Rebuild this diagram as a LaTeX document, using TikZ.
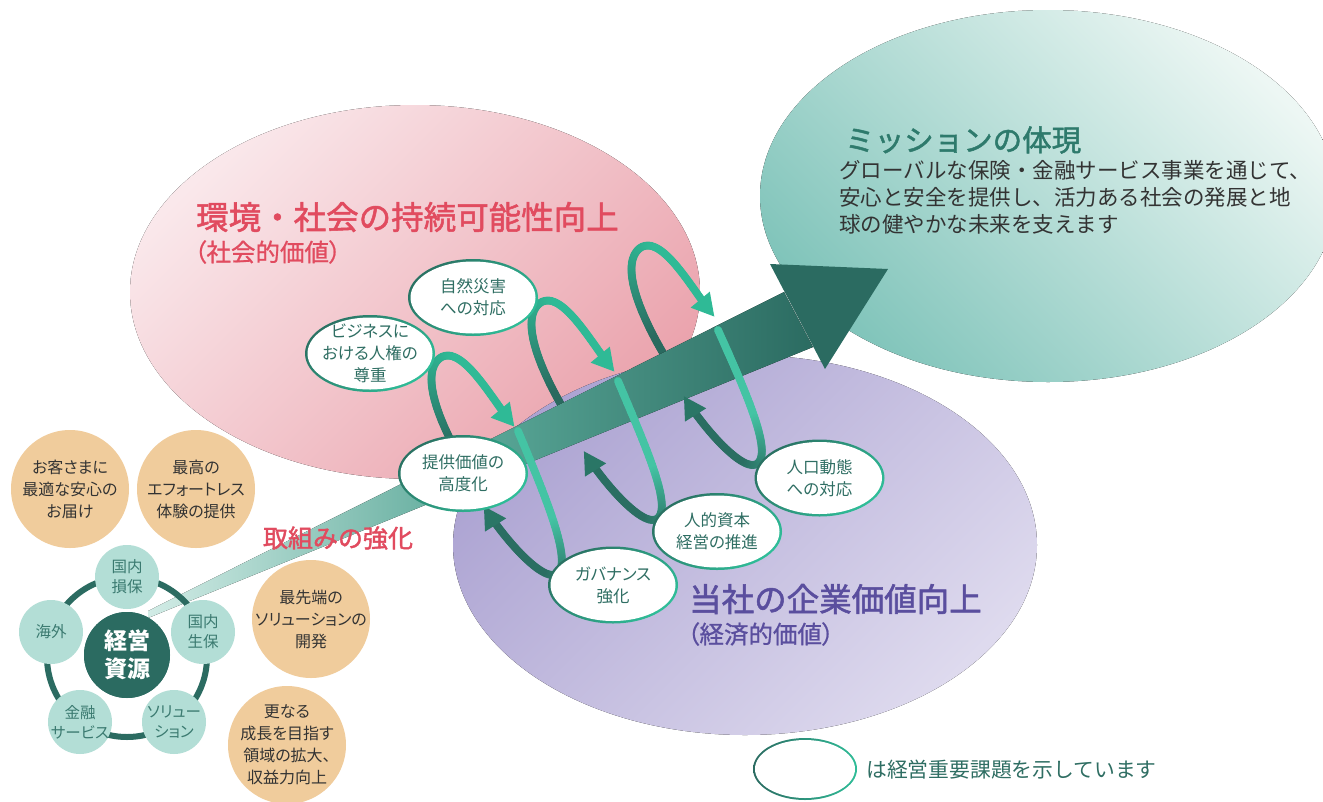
\documentclass[tikz,border=0pt]{standalone}
\usepackage{fontspec}
\setmainfont{Noto Sans CJK JP}
\newfontfamily\jpp{Noto Sans CJK JP}[RawFeature=+palt]
\newfontfamily\jpmed{Noto Sans CJK JP}[FakeBold=1.6]
\newfontfamily\jpmedp{Noto Sans CJK JP}[FakeBold=0.8,RawFeature=+palt]
\usetikzlibrary{shapes.geometric,decorations.markings}
\definecolor{tealD}{HTML}{2B6B61}
\definecolor{upD}{HTML}{2A6A5F}
\definecolor{upB}{HTML}{2FBA96}
\definecolor{lowS}{HTML}{44C4A4}
\definecolor{lowE}{HTML}{2A6E62}
\definecolor{lowA}{HTML}{2A7666}
\definecolor{pinkL}{HTML}{FAE8EB}
\definecolor{pinkD}{HTML}{EAA2AC}
\definecolor{purpD}{HTML}{ACA3D2}
\definecolor{purpL}{HTML}{DEDAEE}
\definecolor{missL}{HTML}{EDF7F4}
\definecolor{missD}{HTML}{80C4BA}
\definecolor{orng}{HTML}{F0CC9C}
\definecolor{ltteal}{HTML}{B3DED6}
\definecolor{redT}{HTML}{E14B5F}
\definecolor{purT}{HTML}{5A4E9E}
\definecolor{misT}{HTML}{2E7A6C}
\definecolor{txtD}{HTML}{333333}
\definecolor{issT}{HTML}{2F6E63}
\definecolor{issD}{HTML}{2A7263}
\definecolor{issB}{HTML}{2FBD98}
\definecolor{beamL}{HTML}{D2ECE6}
\definecolor{beamM}{HTML}{59A797}
\definecolor{sTxt}{HTML}{3B7A70}
\tikzset{
  gradstroke/.style n args={4}{postaction={decorate,decoration={markings,
      mark=between positions 0 and -12pt step 1.2pt with {%
        \pgfmathsetmacro\gS{(\pgfkeysvalueof{/pgf/decoration/mark info/distance from start})/(\pgfdecoratedpathlength)}%
        \pgfmathsetmacro\gP{100*min(1,max(0,(\gS-#3)/(#4-#3)))}%
        \fill[#2!\gP!#1] (0pt,0pt) circle[radius=4pt];}}}},
  tipfill/.style={postaction={decorate,decoration={markings,
      mark=at position 1 with {\fill[#1] (2pt,0pt) -- (-20pt,12.5pt) -- (-20pt,-12.5pt) -- cycle;}}}},
  issue/.style={ellipse, minimum width=130pt, minimum height=77pt, inner sep=0pt,
     top color=issD, bottom color=issB, shading angle=45,
     path picture={\fill[white] (path picture bounding box.center) ellipse[x radius=62.5pt,y radius=36pt];}},
  isstext/.style={align=center, text=issT, font=\jpp\fontsize{16.5}{22}\selectfont, inner sep=0pt},
  goal/.style={circle, fill=orng, minimum size=118pt, inner sep=0pt},
  goaltext/.style={align=center, text=txtD, font=\jpp\fontsize{16}{22}\selectfont, inner sep=0pt},
  biz/.style={circle, fill=ltteal, minimum size=64pt, inner sep=0pt},
  biztext/.style={align=center, text=sTxt, font=\jpp\fontsize{15.5}{20}\selectfont, inner sep=0pt},
  ttl/.style={anchor=west, inner sep=0pt, font=\jpmed\fontsize{32.5}{33}\selectfont},
  subttl/.style={anchor=west, inner sep=0pt, font=\jpmedp\fontsize{24.5}{25}\selectfont}
}
\begin{document}
\begin{tikzpicture}[x=1pt,y=-1pt]
\path[use as bounding box, fill=white] (0,0) rectangle (1323,801);
% background ellipses
\fill[top color=missL, bottom color=missD, shading angle=-45] (1048,196) ellipse[x radius=288pt, y radius=186pt];
\fill[top color=pinkL, bottom color=pinkD, shading angle=45] (415,292) ellipse[x radius=285pt, y radius=187pt];
\fill[top color=purpD, bottom color=purpL, shading angle=45] (745,545) ellipse[x radius=292pt, y radius=190pt];
% upper arcs of the spiral (behind the beam)
\foreach \k in {0,1,2}{
  \begin{scope}[shift={(100*\k,-55*\k)}]
    \path[gradstroke={upD}{upB}{0.12}{0.6}, tipfill=upB]
      (466,468) .. controls (443,430) and (418,375) .. (440,358)
      .. controls (462,343) and (493,401) .. (513,425);
  \end{scope}
}
% beam
\fill[left color=beamL, right color=tealD, middle color=beamM]
  (148,611) -- (784,292) -- (813,347) -- (148,618) -- cycle;
\fill[tealD] (770,264) -- (888,269) -- (825,369) -- cycle;
% lower parts of the spiral (in front)
\path[gradstroke={lowS}{lowE}{0.38}{0.66}, tipfill=lowA]
  (518,431) .. controls (545,495) and (572,560) .. (558,573)
  .. controls (545,585) and (505,540) .. (485,508);
\path[gradstroke={lowS}{lowE}{0.38}{0.66}, tipfill=lowA]
  (618,381) .. controls (645,445) and (672,505) .. (658,518)
  .. controls (645,530) and (605,485) .. (585,453);
\path[gradstroke={lowS}{lowE}{0.38}{0.66}, tipfill=lowA]
  (718,330) .. controls (745,390) and (772,450) .. (758,463)
  .. controls (745,475) and (705,430) .. (685,398);
% material issues
\node[issue] (n1) at (370,353.5) {};
\node[isstext] (n1t) at (n1.center) {ビジネスに\\おける人権の\\尊重};
\node[issue] (n2) at (473,297.5) {};
\node[isstext] (n2t) at (n2.center) {自然災害\\への対応};
\node[issue] (n3) at (463,473.5) {};
\node[isstext] (n3t) at (n3.center) {提供価値の\\高度化};
\node[issue] (n4) at (613,585) {};
\node[isstext] (n4t) at (n4.center) {ガバナンス\\強化};
\node[issue] (n5) at (717,531.5) {};
\node[isstext] (n5t) at (n5.center) {人的資本\\経営の推進};
\node[issue] (n6) at (819.5,478) {};
\node[isstext] (n6t) at (n6.center) {人口動態\\への対応};
% goals
\node[goal] (o1) at (70,489) {};
\node[goaltext] (o1t) at (o1.center) {お客さまに\\最適な安心の\\お届け};
\node[goal] (o2) at (196,489) {};
\node[goaltext] (o2t) at (o2.center) {最高の\\エフォートレス\\体験の提供};
\node[goal] (o3) at (311,619) {};
\node[goaltext] (o3t) at (o3.center) {最先端の\\ソリューションの\\開発};
\node[goal] (o4) at (287,745) {};
\node[goaltext] (o4t) at (o4.center) {更なる\\成長を目指す\\領域の拡大、\\収益力向上};
% management resources
\node[circle, fill=tealD, minimum size=86pt, inner sep=0pt] (res) at (127,655) {};
\draw[tealD, line width=6pt] (res.center) ++(0,2) circle[radius=80pt];
\node[circle, fill=tealD, minimum size=86pt, inner sep=0pt, align=center, text=white,
  font=\bfseries\fontsize{23}{28}\selectfont] (rest) at (res.center) {経営\\資源};
\node[biz] (s1) at (127,577) {};
\node[biztext] (s1t) at (s1.center) {国内\\損保};
\node[biz] (s2) at (203,632) {};
\node[biztext] (s2t) at (s2.center) {国内\\生保};
\node[biz] (s3) at (174,722) {};
\node[biztext] (s3t) at (s3.center) {ソリュー\\ション};
\node[biz] (s4) at (80,722) {};
\node[biztext] (s4t) at (s4.center) {金融\\サービス};
\node[biz] (s5) at (51,632) {};
\node[biztext] (s5t) at (s5.center) {海外};
% titles
\node[ttl, text=redT] (t1) at (196,217) {環境・社会の持続可能性向上};
\node[subttl, text=redT] (t1s) at (194,252) {（社会的価値）};
\node[ttl, text=purT] (t2) at (689,599) {当社の企業価値向上};
\node[subttl, text=purT] (t2s) at (687,634) {（経済的価値）};
\node[anchor=west, inner sep=0pt, text=misT, font=\jpmed\fontsize{29.5}{30}\selectfont] (t3) at (845,140) {ミッションの体現};
\node[anchor=north west, align=left, inner sep=0pt, text=txtD, font=\fontsize{21.5}{27}\selectfont] (t3s) at (839,160)
  {グローバルな保険・金融サービス事業を通じて、\\安心と安全を提供し、活力ある社会の発展と地\\球の健やかな未来を支えます};
\node[inner sep=0pt, text=redT, font=\jpmed\fontsize{25}{26}\selectfont] (act) at (338,538) {取組みの強化};
% legend
\node[ellipse, minimum width=104pt, minimum height=62pt, inner sep=0pt, left color=tealD, right color=issB,
  path picture={\fill[white] (path picture bounding box.center) ellipse[x radius=50pt,y radius=29pt];}] (lg) at (805,769) {};
\node[anchor=west, inner sep=0pt, text=issT, font=\fontsize{20.8}{22}\selectfont] (lgt) at (866,770) {は経営重要課題を示しています};
\end{tikzpicture}
\end{document}
